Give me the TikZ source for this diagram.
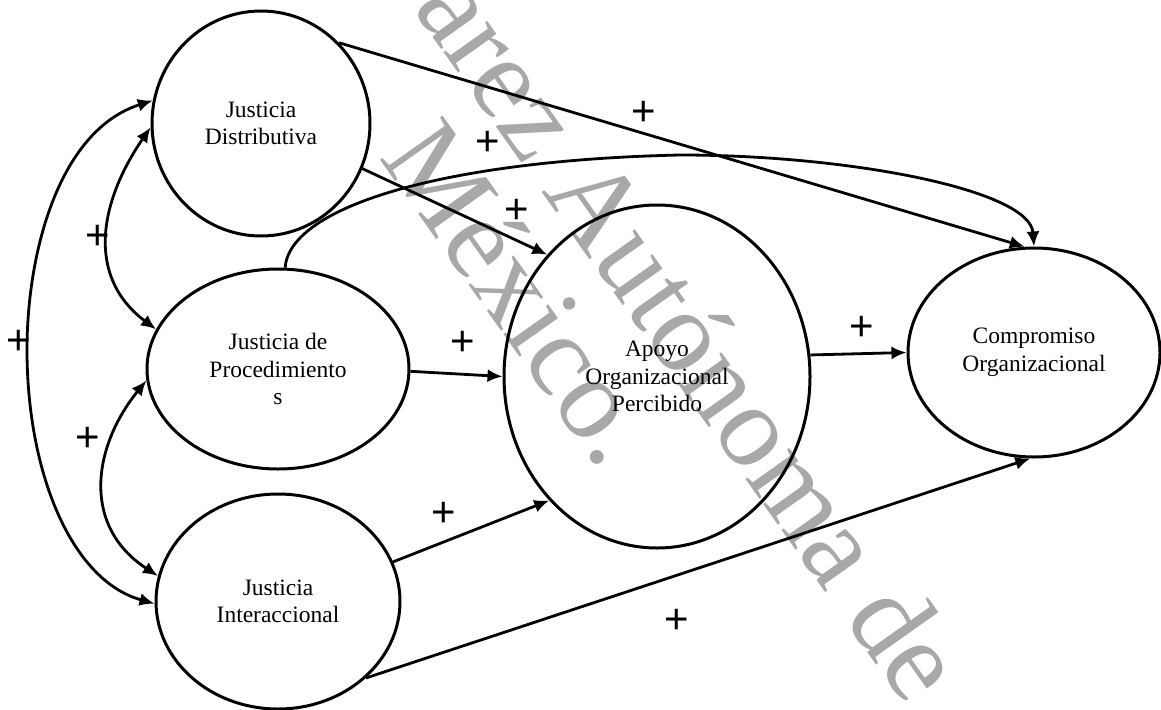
\documentclass[tikz,border=0pt]{standalone}
\usepackage{fontspec}
\setmainfont{Liberation Serif}
\newfontfamily\plusfont{Liberation Sans}
\usetikzlibrary{arrows.meta,shapes.geometric}
\definecolor{wmgray}{RGB}{168,168,168}
\begin{document}
\begin{tikzpicture}[x=1pt,y=-1pt,
  var/.style={draw, line width=3pt, ellipse, inner sep=0pt, align=center,
    font=\fontsize{23.5}{27.5}\selectfont},
  link/.style={line width=2.8pt, -{Latex[length=15pt,width=13pt]}},
  both/.style={line width=2.8pt, {Latex[length=15pt,width=13pt]}-{Latex[length=15pt,width=13pt]}},
  plus/.style={font=\plusfont\fontsize{42}{42}\selectfont, inner sep=0pt},
  wm/.style={text=wmgray, font=\fontsize{117}{117}\selectfont, rotate=-54.7,
    anchor=base west, inner sep=0pt}
]
\useasboundingbox (0,0) rectangle (1161,709);
\clip (0,0) rectangle (1161,709);

% watermark
\node[wm] (wm1) at (412,8) {arez Autónoma de};
\node[wm] (wm2) at (378,157) {México.};

% variables
\node[var, minimum width=218pt, minimum height=225pt] (jd) at (261,123.5) {Justicia\\Distributiva};
\node[var, minimum width=262pt, minimum height=200pt] (jp) at (278,369) {Justicia de\\Procedimiento\\s};
\node[var, minimum width=244pt, minimum height=215pt] (ji) at (278,601.5) {Justicia\\Interaccional};
\node[var, minimum width=306pt, minimum height=343pt] (apoyo) at (657,376.5) {Apoyo\\Organizacional\\Percibido};
\node[var, minimum width=252pt, minimum height=209pt] (comp) at (1034,352.5) {Compromiso\\Organizacional};

% connectors
\coordinate (peak) at (680,155);
\coordinate (leftpt) at (27,350);
\draw[link] (jd.46) -- (comp.95);
\draw[link] (jp.86) .. controls (290,205) and (450,160) .. (peak)
  .. controls (850,155) and (1030,190) .. (comp.90);
\draw[link] (jd.-24) -- (apoyo.132);
\draw[link] (jp.-1) -- (apoyo.180);
\draw[link] (ji.19) -- (apoyo.229);
\draw[link] (ji.-41) -- (comp.268);
\draw[link] (apoyo.8) -- (comp.180);

\draw[both] (jd.182) .. controls (100,201) and (85,276) .. (jp.162);
\draw[both] (jp.185) .. controls (94,445) and (80,525) .. (ji.168);
\draw[both] (jd.168) .. controls (60,130) and (27,250) .. (leftpt)
  .. controls (27,470) and (70,580) .. (ji.181);

% signs
\node[plus] (p1) at (644,113) {+};
\node[plus] (p2) at (488,143) {+};
\node[plus] (p3) at (517,211) {+};
\node[plus] (p4) at (98,237) {+};
\node[plus] (p5) at (463,343) {+};
\node[plus] (p6) at (19,342) {+};
\node[plus] (p7) at (88,439) {+};
\node[plus] (p8) at (444,514) {+};
\node[plus] (p9) at (862,328) {+};
\node[plus] (p10) at (677,621) {+};
\end{tikzpicture}
\end{document}
